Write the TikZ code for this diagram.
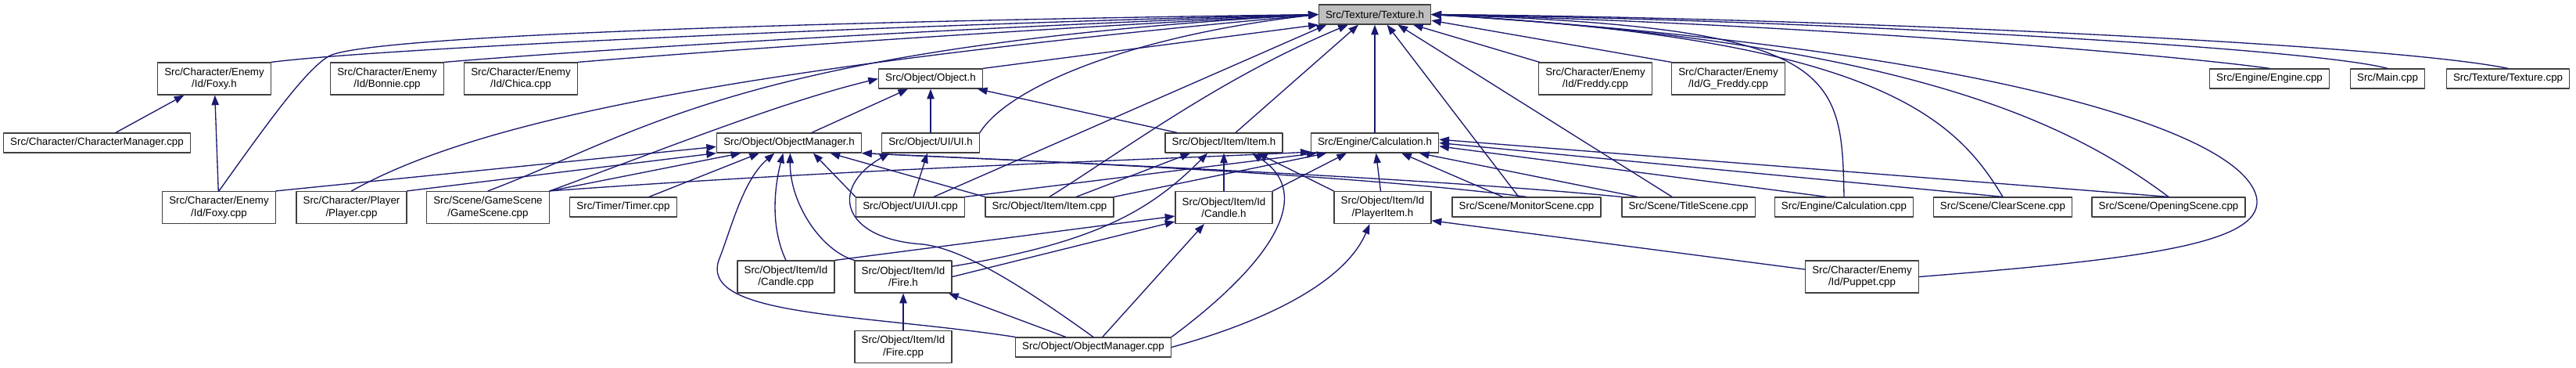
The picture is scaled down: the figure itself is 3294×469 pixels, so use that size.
\documentclass[tikz,border=0pt]{standalone}
\usepackage{fontspec}
\setmainfont{Liberation Sans}
\usepackage{tikz}
\usetikzlibrary{arrows.meta}
\definecolor{inclblue}{RGB}{25, 25, 112}
\definecolor{curgray}{RGB}{191, 191, 191}
\tikzset{every path/.style={line cap=round, line join=round}, >={Triangle[length=9.5pt, width=7pt]}}
\tikzset{
    filebox/.style={draw=black!75, fill=white, line width=0.9pt, inner xsep=6.5pt, inner ysep=1pt, minimum height=18.75pt, align=center, font=\fontsize{10pt}{11.5pt}\selectfont},
    filebox2/.style={filebox, minimum height=30.75pt},
    incl/.style={->, draw=inclblue, line width=1pt}
}

\begin{document}
\begin{tikzpicture}[x=0.75pt, y=-0.75pt]
    \useasboundingbox (0,0) rectangle (3294,469);

    \node [filebox, fill=curgray] (texh) at (1758,18.5) {Src/Texture/Texture.h};

    \node [filebox2] (foxyh) at (274,100.5) {Src/Character/Enemy\\/Id/Foxy.h};
    \node [filebox2] (bonnie) at (495,100.5) {Src/Character/Enemy\\/Id/Bonnie.cpp};
    \node [filebox2] (chica) at (666,100.5) {Src/Character/Enemy\\/Id/Chica.cpp};
    \node [filebox] (objh) at (1190,100.5) {Src/Object/Object.h};
    \node [filebox2] (freddy) at (2040,100.5) {Src/Character/Enemy\\/Id/Freddy.cpp};
    \node [filebox2] (gfreddy) at (2210,100.5) {Src/Character/Enemy\\/Id/G\_Freddy.cpp};
    \node [filebox] (engine) at (2902,100.5) {Src/Engine/Engine.cpp};
    \node [filebox] (mainc) at (3053,100.5) {Src/Main.cpp};
    \node [filebox] (texc) at (3207,100.5) {Src/Texture/Texture.cpp};

    \node [filebox] (charmgr) at (124,182.5) {Src/Character/CharacterManager.cpp};
    \node [filebox] (objmgrh) at (1009,182.5) {Src/Object/ObjectManager.h};
    \node [filebox] (uih) at (1190,182.5) {Src/Object/UI/UI.h};
    \node [filebox] (itemh) at (1565,182.5) {Src/Object/Item/Item.h};
    \node [filebox] (calch) at (1758,182.5) {Src/Engine/Calculation.h};

    \node [filebox2] (foxyc) at (280,265) {Src/Character/Enemy\\/Id/Foxy.cpp};
    \node [filebox2] (player) at (449.5,265) {Src/Character/Player\\/Player.cpp};
    \node [filebox2] (gamescene) at (624,265) {Src/Scene/GameScene\\/GameScene.cpp};
    \node [filebox] (timer) at (797,264.5) {Src/Timer/Timer.cpp};
    \node [filebox] (uic) at (1164,264.5) {Src/Object/UI/UI.cpp};
    \node [filebox] (itemc) at (1342,264.5) {Src/Object/Item/Item.cpp};
    \node [filebox2] (candleh) at (1565,265) {Src/Object/Item/Id\\/Candle.h};
    \node [filebox2] (pitemh) at (1768,265) {Src/Object/Item/Id\\/PlayerItem.h};
    \node [filebox] (monitor) at (1952,264.5) {Src/Scene/MonitorScene.cpp};
    \node [filebox] (title) at (2159,264.5) {Src/Scene/TitleScene.cpp};
    \node [filebox] (calcc) at (2358,264.5) {Src/Engine/Calculation.cpp};
    \node [filebox] (clear) at (2561,264.5) {Src/Scene/ClearScene.cpp};
    \node [filebox] (opening) at (2773,264.5) {Src/Scene/OpeningScene.cpp};

    \node [filebox2] (candlec) at (1005,353.5) {Src/Object/Item/Id\\/Candle.cpp};
    \node [filebox2] (fireh) at (1155,353.5) {Src/Object/Item/Id\\/Fire.h};
    \node [filebox2] (puppet) at (2381,353.5) {Src/Character/Enemy\\/Id/Puppet.cpp};

    \node [filebox2] (firec) at (1155,443) {Src/Object/Item/Id\\/Fire.cpp};
    \node [filebox] (objmgrc) at (1398,443.5) {Src/Object/ObjectManager.cpp};

    \draw [incl] (foxyh.north east) .. controls (500,60) and (1200,30) .. (texh.west);
    \draw [incl] (bonnie.north east) .. controls (800,60) and (1300,32) .. (texh.west);
    \draw [incl] (chica.north east) .. controls (950,62) and (1350,35) .. (texh.west);
    \draw [incl] (foxyc.north) .. controls (340,160) and (390,90) .. (420,72) .. controls (470,42) and (1200,25) .. (texh.west);
    \draw [incl] (player.north) .. controls (600,160) and (900,90) .. (texh.west);
    \draw [incl] (gamescene.north) .. controls (820,170) and (950,60) .. (texh.west);
    \draw [incl] (uih.north east) .. controls (1290,110) and (1450,45) .. (texh.west);
    \draw [incl] (objh.north east) -- (texh.south west);
    \draw [incl] (uic) -- (texh.192);
    \draw [incl] (itemc.north) .. controls (1440,190) and (1560,100) .. (texh.201);
    \draw [incl] (itemh) -- (texh.212);
    \draw [incl] (calch) -- (texh);
    \draw [incl] (monitor) -- (texh.320);
    \draw [incl] (title) -- (texh.336);
    \draw [incl] (freddy) -- (texh.345);
    \draw [incl] (gfreddy.north west) -- (texh.354);
    \draw [incl] (engine.north) .. controls (2780,70) and (2300,30) .. (texh.east);
    \draw [incl] (mainc.north) .. controls (2950,60) and (2300,25) .. (texh.east);
    \draw [incl] (texc.north) .. controls (3050,55) and (2300,22) .. (texh.east);
    \draw [incl] (calcc.north) .. controls (2355,90) and (2350,35) .. (texh.east);
    \draw [incl] (clear.north) .. controls (2500,150) and (2400,50) .. (texh.east);
    \draw [incl] (opening.north) .. controls (2650,160) and (2450,55) .. (texh.east);
    \draw [incl] (puppet.east) .. controls (2750,330) and (2900,310) .. (2885,250) .. controls (2860,160) and (2500,60) .. (texh.east);

    \draw [incl] (charmgr) -- (foxyh);
    \draw [incl] (foxyc) -- (foxyh);

    \draw [incl] (objmgrh) -- (objh);
    \draw [incl] (uih) -- (objh);
    \draw [incl] (itemh) -- (objh);
    \draw [incl] (gamescene.north east) .. controls (850,190) and (1000,130) .. (objh.west);

    \draw [incl] (foxyc.north east) -- (objmgrh.183);
    \draw [incl] (player.north east) -- (objmgrh.188);
    \draw [incl] (gamescene.north east) -- (objmgrh.192);
    \draw [incl] (timer) -- (objmgrh.199);
    \draw [incl] (objmgrc.north west) .. controls (1100,400) and (890,405) .. (920,330) .. controls (935,292) and (950,230) .. (objmgrh.215);
    \draw [incl] (candlec.north) .. controls (985,290) and (990,240) .. (objmgrh.240);
    \draw [incl] (fireh.north west) .. controls (1050,320) and (1010,260) .. (objmgrh.276);
    \draw [incl] (uic.north west) -- (objmgrh.337);
    \draw [incl] (itemc.north west) -- (objmgrh.346);
    \draw [incl] (monitor.north) .. controls (1700,220) and (1300,205) .. (objmgrh.352);
    \draw [incl] (title.north west) .. controls (1800,225) and (1300,205) .. (objmgrh.352);

    \draw [incl] (uic) -- (uih);
    \draw [incl] (objmgrc.north) .. controls (1300,360) and (1230,318) .. (1180,312) .. controls (1075,305) and (1060,240) .. (uih.194);

    \draw [incl] (itemc) -- (itemh.197);
    \draw [incl] (fireh.12) .. controls (1400,310) and (1470,270) .. (itemh.212);
    \draw [incl] (candleh) -- (itemh);
    \draw [incl] (objmgrc.north east) .. controls (1620,340) and (1685,250) .. (itemh.340);
    \draw [incl] (pitemh.north west) -- (itemh.343);

    \draw [incl] (gamescene.north east) .. controls (1100,215) and (1450,205) .. (calch.188);
    \draw [incl] (uic.north east) -- (calch.190);
    \draw [incl] (itemc.north east) -- (calch.192);
    \draw [incl] (candleh.north east) -- (calch.200);
    \draw [incl] (pitemh) -- (calch);
    \draw [incl] (monitor) -- (calch.339);
    \draw [incl] (title) -- (calch.347);
    \draw [incl] (calcc.150) -- (calch.357);
    \draw [incl] (clear.north) -- (calch.east);
    \draw [incl] (opening.north) -- (calch.3);

    \draw [incl] (fireh.east) -- (candleh.196);
    \draw [incl] (candlec.north east) -- (candleh.190);
    \draw [incl] (objmgrc) -- (candleh.220);

    \draw [incl] (firec) -- (fireh);
    \draw [incl] (objmgrc) -- (fireh.340);

    \draw [incl] (objmgrc.east) .. controls (1620,410) and (1720,360) .. (pitemh.232);
    \draw [incl] (puppet) -- (pitemh.345);
\end{tikzpicture}
\end{document}
